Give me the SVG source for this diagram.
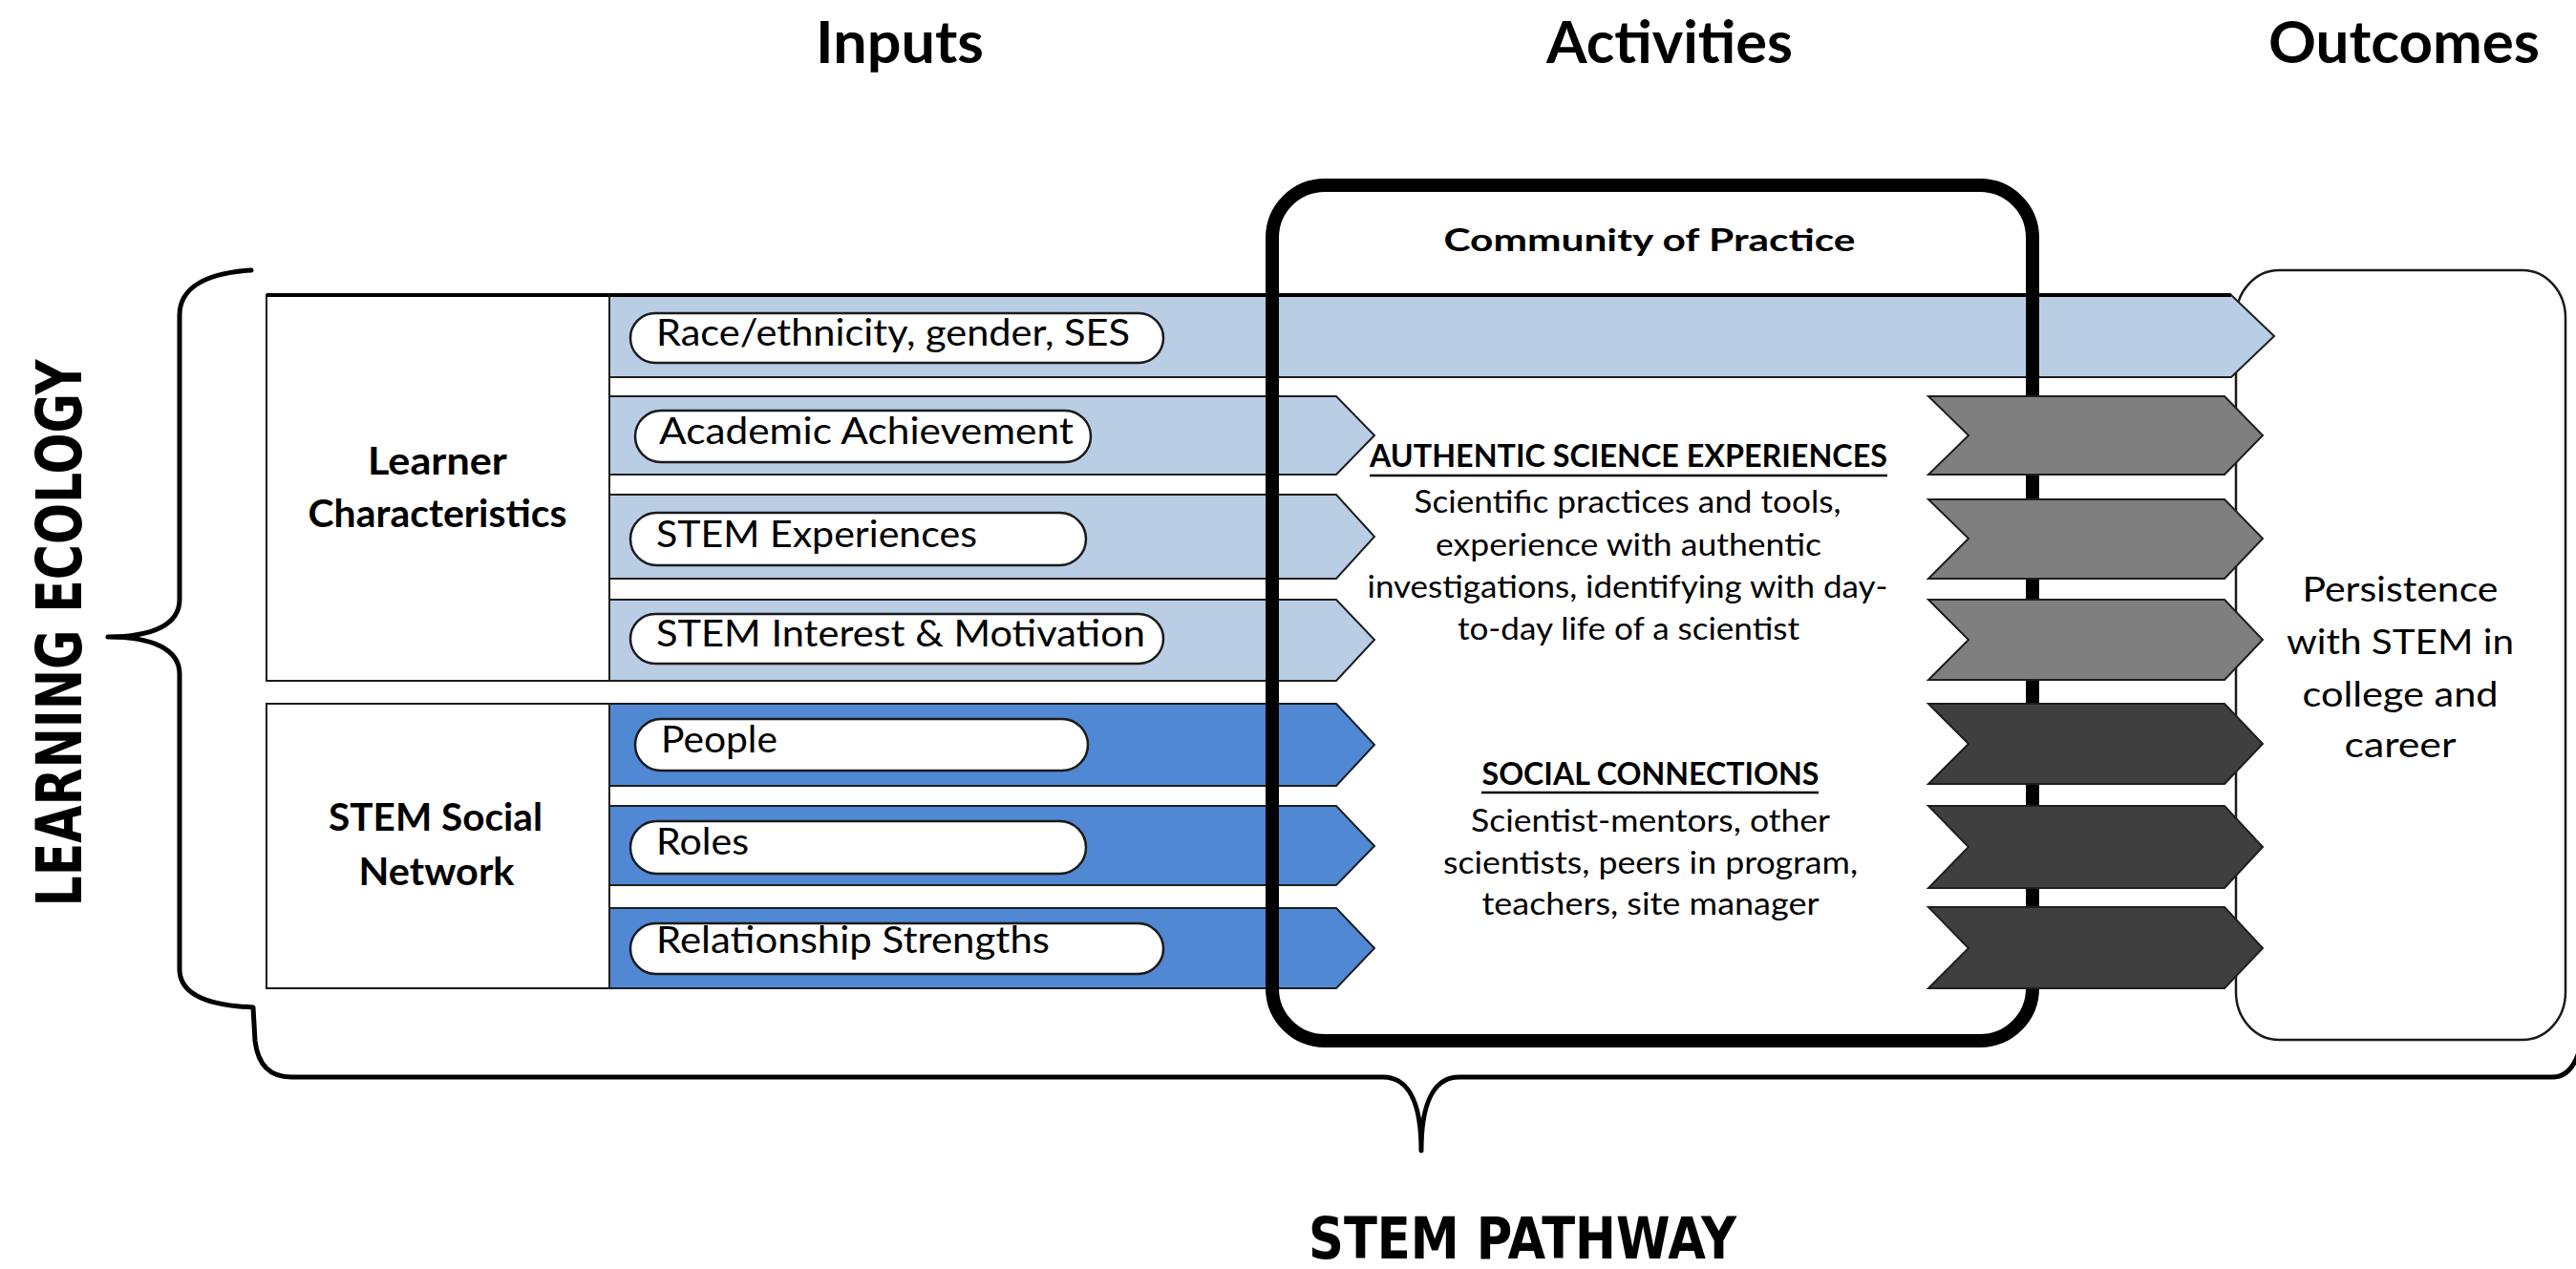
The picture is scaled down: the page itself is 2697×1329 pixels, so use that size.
<svg xmlns="http://www.w3.org/2000/svg" width="2697" height="1329" viewBox="0 0 2697 1329">
<style>
.t{font-family:Lato,"Open Sans","Liberation Sans",sans-serif;fill:#000}
.hdr{font-size:61px;font-weight:bold;text-anchor:middle}
.lab{font-size:40px;font-weight:bold;text-anchor:middle}
.ptxt{font-size:39px}
.act{font-size:33px;text-anchor:middle}
.acth{font-size:33px;font-weight:bold;text-anchor:middle}
.out{font-size:36px;text-anchor:middle}
.big{font-family:"DejaVu Sans","Liberation Sans",Arial,sans-serif;font-weight:bold;fill:#000}
.col{fill:#fff;stroke:#1a1a1a;stroke-width:2}
.pill{fill:#fff;stroke:#1a1a1a;stroke-width:2.5}
.lb{fill:#B9CDE5;stroke:#1e1e1e;stroke-width:2}
.mb{fill:#5088D3;stroke:#1e1e1e;stroke-width:2}
.g1{fill:#7F7F7F;stroke:#1e1e1e;stroke-width:2}
.g2{fill:#3F3F3F;stroke:#1e1e1e;stroke-width:2}
.brace{fill:none;stroke:#000;stroke-width:5;stroke-linejoin:round;stroke-linecap:round}
.ul{stroke:#000;stroke-width:2.5}
</style>

<g id="headers">
<text class="t hdr" x="942" y="66" textLength="176" lengthAdjust="spacingAndGlyphs">Inputs</text>
<text class="t hdr" x="1748" y="66" textLength="258" lengthAdjust="spacingAndGlyphs">Activities</text>
<text class="t hdr" x="2517" y="66" textLength="284" lengthAdjust="spacingAndGlyphs">Outcomes</text>
</g>

<g id="outcome">
<rect x="2341" y="283" width="345" height="806" rx="45" ry="50" fill="#fff" stroke="#1a1a1a" stroke-width="2.5"/>
<text class="t out" x="2513" y="630" textLength="205" lengthAdjust="spacingAndGlyphs">Persistence</text>
<text class="t out" x="2513" y="685" textLength="238" lengthAdjust="spacingAndGlyphs">with STEM in</text>
<text class="t out" x="2513" y="740" textLength="205" lengthAdjust="spacingAndGlyphs">college and</text>
<text class="t out" x="2513" y="793" textLength="117" lengthAdjust="spacingAndGlyphs">career</text>
</g>

<g id="learning-ecology">
<path class="brace" d="M263,283 C218,286 188,300 188,330 L188,628 C188,654 160,667 113,667 C160,667 188,680 188,706 L188,1015 C188,1040 215,1053 265,1055 L267,1090 C270,1115 282,1128 305,1128 L1448,1128 C1472,1128 1488,1150 1488,1205 C1488,1150 1504,1128 1528,1128 L2672,1128 C2688,1128 2697,1115 2702,1095"/>
<text class="big" transform="translate(85,663) rotate(-90)" x="0" y="0" font-size="66" text-anchor="middle" textLength="573" lengthAdjust="spacingAndGlyphs">LEARNING ECOLOGY</text>
</g>

<g id="stem-pathway">
<text class="big" x="1594" y="1318" font-size="60" text-anchor="middle" textLength="448" lengthAdjust="spacingAndGlyphs">STEM PATHWAY</text>
</g>

<g id="learner-characteristics">
<rect class="col" x="279" y="309" width="359" height="404"/>
<line x1="279" y1="309" x2="638" y2="309" stroke="#000" stroke-width="4"/>
<text class="t lab" x="458" y="497" textLength="146" lengthAdjust="spacingAndGlyphs">Learner</text>
<text class="t lab" x="458" y="552" textLength="271" lengthAdjust="spacingAndGlyphs">Characteristics</text>
</g>

<g id="stem-social-network">
<rect class="col" x="279" y="737" width="359" height="298"/>
<text class="t lab" x="456" y="870" textLength="224" lengthAdjust="spacingAndGlyphs">STEM Social</text>
<text class="t lab" x="457" y="927" textLength="163" lengthAdjust="spacingAndGlyphs">Network</text>
</g>

<g id="input-race">
<polygon class="lb" points="638,309 2336,309 2381,352 2336,395 638,395"/>
<line x1="638" y1="309" x2="2336" y2="309" stroke="#000" stroke-width="4"/>
<rect class="pill" x="660" y="328" width="558" height="52" rx="26"/>
<text class="t ptxt" x="687" y="362" textLength="496" lengthAdjust="spacingAndGlyphs">Race/ethnicity, gender, SES</text>
</g>

<g id="input-academic">
<polygon class="lb" points="638,415 1399,415 1439,456 1399,497 638,497"/>
<rect class="pill" x="665" y="430" width="477" height="54" rx="27"/>
<text class="t ptxt" x="690" y="465" textLength="434" lengthAdjust="spacingAndGlyphs">Academic Achievement</text>
</g>

<g id="input-experiences">
<polygon class="lb" points="638,518 1399,518 1439,562 1399,606 638,606"/>
<rect class="pill" x="660" y="537" width="477" height="55" rx="27.5"/>
<text class="t ptxt" x="687" y="573" textLength="336" lengthAdjust="spacingAndGlyphs">STEM Experiences</text>
</g>

<g id="input-interest">
<polygon class="lb" points="638,628 1399,628 1439,670 1399,713 638,713"/>
<rect class="pill" x="660" y="643" width="558" height="52" rx="26"/>
<text class="t ptxt" x="687" y="677" textLength="512" lengthAdjust="spacingAndGlyphs">STEM Interest &amp; Motivation</text>
</g>

<g id="input-people">
<polygon class="mb" points="638,737 1399,737 1439,780 1399,823 638,823"/>
<rect class="pill" x="665" y="753" width="474" height="54" rx="27"/>
<text class="t ptxt" x="692" y="788" textLength="122" lengthAdjust="spacingAndGlyphs">People</text>
</g>

<g id="input-roles">
<polygon class="mb" points="638,844 1399,844 1439,886 1399,927 638,927"/>
<rect class="pill" x="660" y="860" width="477" height="55" rx="27.5"/>
<text class="t ptxt" x="687" y="895" textLength="97" lengthAdjust="spacingAndGlyphs">Roles</text>
</g>

<g id="input-relationships">
<polygon class="mb" points="638,951 1399,951 1439,993 1399,1035 638,1035"/>
<rect class="pill" x="660" y="967" width="558" height="53" rx="26.5"/>
<text class="t ptxt" x="687" y="998" textLength="412" lengthAdjust="spacingAndGlyphs">Relationship Strengths</text>
</g>

<g id="community-of-practice">
<rect x="1332" y="194" width="796" height="896" rx="55" fill="none" stroke="#000" stroke-width="14"/>
<text class="t acth" x="1727" y="263" font-size="37" textLength="431" lengthAdjust="spacingAndGlyphs">Community of Practice</text>
</g>

<g id="authentic-science">
<text class="t acth" x="1705" y="489" textLength="542" lengthAdjust="spacingAndGlyphs">AUTHENTIC SCIENCE EXPERIENCES</text>
<line class="ul" x1="1434" y1="498" x2="1976" y2="498"/>
<text class="t act" x="1704" y="537" textLength="447" lengthAdjust="spacingAndGlyphs">Scientific practices and tools,</text>
<text class="t act" x="1705" y="582" textLength="404" lengthAdjust="spacingAndGlyphs">experience with authentic</text>
<text class="t act" x="1704" y="626" textLength="545" lengthAdjust="spacingAndGlyphs">investigations, identifying with day-</text>
<text class="t act" x="1705" y="670" textLength="358" lengthAdjust="spacingAndGlyphs">to-day life of a scientist</text>
</g>

<g id="social-connections">
<text class="t acth" x="1728" y="822" textLength="353" lengthAdjust="spacingAndGlyphs">SOCIAL CONNECTIONS</text>
<line class="ul" x1="1551" y1="830" x2="1904" y2="830"/>
<text class="t act" x="1728" y="871" textLength="376" lengthAdjust="spacingAndGlyphs">Scientist-mentors, other</text>
<text class="t act" x="1728" y="915" textLength="434" lengthAdjust="spacingAndGlyphs">scientists, peers in program,</text>
<text class="t act" x="1728" y="958" textLength="353" lengthAdjust="spacingAndGlyphs">teachers, site manager</text>
</g>

<g id="connectors">
<polygon class="g1" points="2019,415 2329,415 2369,456 2329,497 2019,497 2061,456"/>
<polygon class="g1" points="2019,523 2329,523 2369,564 2329,606 2019,606 2061,564"/>
<polygon class="g1" points="2019,628 2329,628 2369,670 2329,712 2019,712 2061,670"/>
<polygon class="g2" points="2019,737 2329,737 2369,779 2329,821 2019,821 2061,779"/>
<polygon class="g2" points="2019,844 2329,844 2369,887 2329,930 2019,930 2061,887"/>
<polygon class="g2" points="2019,950 2329,950 2369,993 2329,1035 2019,1035 2061,993"/>
</g>
</svg>
